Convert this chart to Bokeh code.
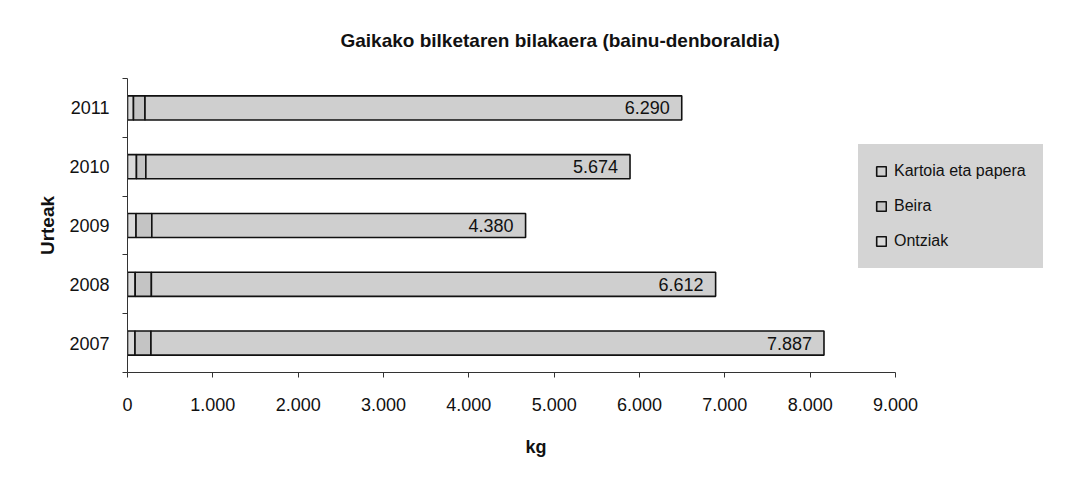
from bokeh.plotting import figure
from bokeh.models import (FixedTicker, Range1d, Legend, LegendItem, ColumnDataSource,
                          LabelSet, Title)
from bokeh.core.properties import value
from bokeh.embed import file_html
from bokeh.resources import INLINE

# ---- data ----
years = ["2007", "2008", "2009", "2010", "2011"]
ontziak = [88, 90, 100, 105, 70]
beira = [187, 190, 185, 110, 135]
kartoia = [7887, 6612, 4380, 5674, 6290]
kartoia_labels = ["7.887", "6.612", "4.380", "5.674", "6.290"]
x_ticks = [0, 1000, 2000, 3000, 4000, 5000, 6000, 7000, 8000, 9000]
x_tick_labels = ["0", "1.000", "2.000", "3.000", "4.000", "5.000", "6.000", "7.000", "8.000", "9.000"]
series_names = ["Ontziak", "Beira", "Kartoia eta papera"]
colors = ["#dadada", "#c4c4c4", "#cfcfcf"]

FONT = "Liberation Sans"

# layout: frame spans to the right edge so the legend is not clipped;
# the axis itself is bounded to 0..9000 (768 px)
W, H = 1088, 477
LEFT, TOP = 127, 78
BOTTOM = H - 372
AXIS_PX = 768
X_END = x_ticks[-1] * (W - LEFT) / AXIS_PX

ypos = [i + 0.5 for i in range(len(years))]
src = ColumnDataSource(dict(
    y=ypos, year=years,
    Ontziak=ontziak, Beira=beira, Kartoia=kartoia,
    total=[o + b + k for o, b, k in zip(ontziak, beira, kartoia)],
    lab=kartoia_labels,
))

p = figure(width=W, height=H, output_backend="svg", toolbar_location=None,
           x_range=Range1d(0, X_END), y_range=Range1d(0, len(years)),
           min_border_left=LEFT, min_border_right=0, min_border_top=TOP, min_border_bottom=BOTTOM)
p.outline_line_color = None
p.xgrid.grid_line_color = None
p.ygrid.grid_line_color = None
p.background_fill_color = "white"
p.border_fill_color = "white"

rs = p.hbar_stack(["Ontziak", "Beira", "Kartoia"], y="y", height=0.41, source=src,
                  fill_color=colors, line_color="#111111", line_width=1.6)

labels = LabelSet(x="total", y="y", text="lab", source=src, text_align="right",
                  text_baseline="middle", x_offset=-12, y_offset=0,
                  text_font=value(FONT), text_font_size="18px", text_color="#111111")
p.add_layout(labels)

# title
p.title.text = "Gaikako bilketaren bilakaera (bainu-denboraldia)"
p.title.align = "left"
p.title.offset = 213
p.title.text_font = FONT
p.title.text_font_style = "bold"
p.title.text_font_size = "19px"
p.title.text_color = "#111111"
p.title.standoff = 55

# x axis
p.xaxis.bounds = (x_ticks[0], x_ticks[-1])
p.xaxis.ticker = FixedTicker(ticks=x_ticks)
p.xaxis.major_label_overrides = {t: l for t, l in zip(x_ticks, x_tick_labels)}
p.xaxis.major_tick_out = 5
p.xaxis.major_tick_in = 0
p.xaxis.minor_tick_out = 0
p.xaxis.minor_tick_in = 0
p.xaxis.axis_line_color = "#333333"
p.xaxis.major_tick_line_color = "#333333"
p.xaxis.major_label_text_font = FONT
p.xaxis.major_label_text_font_size = "18px"
p.xaxis.major_label_text_color = "#111111"
p.xaxis.major_label_standoff = 20

# x axis title as a below-title so it can be positioned
kg = Title(text="kg", align="left", offset=398, text_font=FONT, text_font_style="bold",
           text_font_size="18px", text_color="#111111", standoff=42)
p.add_layout(kg, "below")

# y axis
p.yaxis.ticker = FixedTicker(ticks=ypos, minor_ticks=list(range(len(years) + 1)))
p.yaxis.major_label_overrides = {y: l for y, l in zip(ypos, years)}
p.yaxis.major_tick_out = 0
p.yaxis.major_tick_in = 0
p.yaxis.minor_tick_out = 5
p.yaxis.minor_tick_in = 0
p.yaxis.minor_tick_line_color = "#333333"
p.yaxis.axis_line_color = "#333333"
p.yaxis.major_label_text_font = FONT
p.yaxis.major_label_text_font_size = "18px"
p.yaxis.major_label_text_color = "#111111"
p.yaxis.major_label_standoff = 13
p.yaxis.axis_label = "Urteak"
p.yaxis.axis_label_text_font = FONT
p.yaxis.axis_label_text_font_style = "bold"
p.yaxis.axis_label_text_font_size = "19px"
p.yaxis.axis_label_text_color = "#111111"
p.yaxis.axis_label_standoff = 8

# legend (top to bottom: Kartoia, Beira, Ontziak)
items = [LegendItem(label=series_names[i], renderers=[rs[i]]) for i in [2, 1, 0]]
legend = Legend(items=items, location=(731, 104))
legend.background_fill_color = "#d4d4d4"
legend.background_fill_alpha = 1.0
legend.border_line_color = "#d4d4d4"
legend.label_text_font = FONT
legend.label_text_font_size = "16px"
legend.label_text_color = "#111111"
legend.glyph_width = 12
legend.glyph_height = 12
legend.label_height = 20
legend.spacing = 15
legend.padding = 16
legend.label_standoff = 7
p.add_layout(legend)

open("out.html", "w").write(file_html(p, INLINE))
